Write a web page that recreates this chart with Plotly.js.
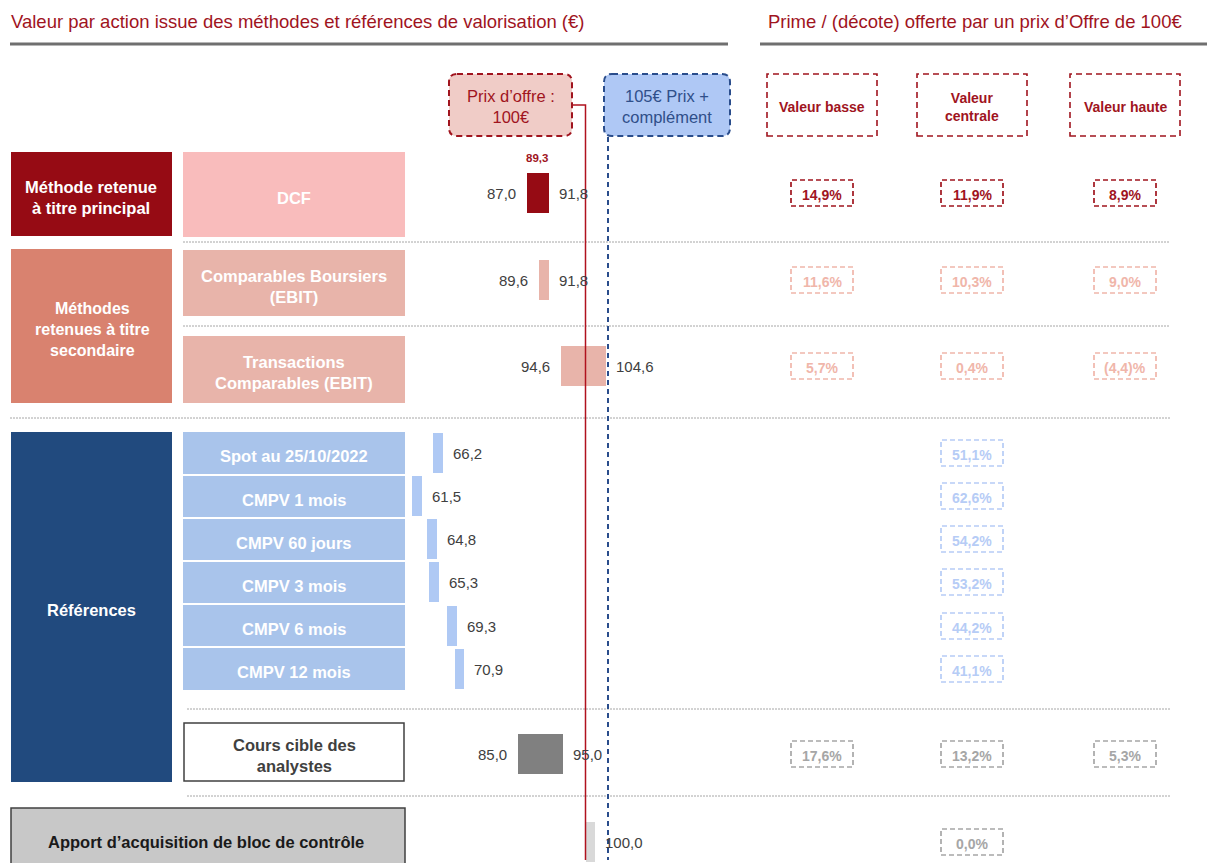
<!DOCTYPE html>
<html>
<head>
<meta charset="utf-8">
<script src="https://cdn.plot.ly/plotly-3.0.1.min.js"></script>
<style>
  html, body { margin: 0; padding: 0; background: #fff; }
  #chart { width: 1207px; height: 863px; }
</style>
</head>
<body>
<div id="chart"></div>
<script>
(function () {
  'use strict';

  // ─── Data ────────────────────────────────────────────────────────────────────
  var methods = [
    'DCF',
    'Comparables Boursiers<br>(EBIT)',
    'Transactions<br>Comparables (EBIT)',
    'Spot au 25/10/2022',
    'CMPV 1 mois',
    'CMPV 60 jours',
    'CMPV 3 mois',
    'CMPV 6 mois',
    'CMPV 12 mois',
    'Cours cible des<br>analystes',
    'Apport d\u2019acquisition de bloc de contrôle'
  ];
  var lowVals  = [87.0, 89.6, 94.6, 66.2, 61.5, 64.8, 65.3, 69.3, 70.9, 85.0, 100.0];
  var highVals = [91.8, 91.8, 104.6, null, null, null, null, null, null, 95.0, null];
  var centralDcf = 89.3;

  var premLow  = [14.9, 11.6, 5.7, null, null, null, null, null, null, 17.6, null];
  var premMid  = [11.9, 10.3, 0.4, 51.1, 62.6, 54.2, 53.2, 44.2, 41.1, 13.2, 0.0];
  var premHigh = [8.9, 9.0, -4.4, null, null, null, null, null, null, 5.3, null];
  var premHeaders = ['Valeur basse', 'Valeur<br>centrale', 'Valeur haute'];

  var groups = ['Méthode retenue<br>à titre principal', 'Méthodes<br>retenues à titre<br>secondaire', 'Références'];

  var offerPrice = 100;
  var offerComplement = 105;

  // ─── Layout constants ────────────────────────────────────────────────────────
  var W = 1207, H = 863;
  var PX_PER_EUR = 4.5, X_OFFER_PX = 585.5;
  var FONT = '"Liberation Sans", Arial, sans-serif';
  var RED = '#A0141E', GREY_TXT = '#404040';
  var rowY = [193, 280, 366, 453, 496, 539, 582, 626, 669, 754, 842];
  var barColors = ['#960B14', '#E8B4AA', '#E8B4AA', '#AFC9F4', '#AFC9F4', '#AFC9F4',
                   '#AFC9F4', '#AFC9F4', '#AFC9F4', '#808080', '#D9D9D9'];
  var premColors = ['#A0141E', '#F0B6AA', '#F0B6AA', '#B6CCF6', '#B6CCF6', '#B6CCF6',
                    '#B6CCF6', '#B6CCF6', '#B6CCF6', '#A6A6A6', '#A6A6A6'];
  var premColX = [822, 972, 1125];
  var pointBarLen = 2.1;

  function px(x) { return x / W; }
  function py(y) { return 1 - y / H; }
  function xData(p) { return offerPrice + (p - X_OFFER_PX) / PX_PER_EUR; }
  function fr(v) { return v.toFixed(1).replace('.', ','); }
  function fmtPrem(v) {
    var s = Math.abs(v).toFixed(1).replace('.', ',');
    return v < 0 ? '(' + s + ')%' : s + '%';
  }

  var shapes = [];
  var annotations = [];

  function rect(x0, y0, x1, y1, fill, lineColor, lineWidth, dash) {
    shapes.push({
      type: 'rect', xref: 'paper', yref: 'paper',
      x0: px(x0), x1: px(x1), y0: py(y1), y1: py(y0),
      fillcolor: fill || 'rgba(0,0,0,0)',
      line: { color: lineColor || 'rgba(0,0,0,0)', width: lineWidth || 0, dash: dash || 'solid' },
      layer: 'below'
    });
  }

  function roundRect(x0, y0, x1, y1, r, fill, lineColor, dash) {
    var p = function (x, y) { return px(x) + ',' + py(y); };
    var path = 'M' + p(x0 + r, y0) + ' L' + p(x1 - r, y0) + ' Q' + p(x1, y0) + ' ' + p(x1, y0 + r) +
      ' L' + p(x1, y1 - r) + ' Q' + p(x1, y1) + ' ' + p(x1 - r, y1) +
      ' L' + p(x0 + r, y1) + ' Q' + p(x0, y1) + ' ' + p(x0, y1 - r) +
      ' L' + p(x0, y0 + r) + ' Q' + p(x0, y0) + ' ' + p(x0 + r, y0) + ' Z';
    shapes.push({
      type: 'path', xref: 'paper', yref: 'paper', path: path,
      fillcolor: fill, line: { color: lineColor, width: 2, dash: dash }, layer: 'below'
    });
  }

  function text(x, y, str, size, color, bold, anchor) {
    annotations.push({
      xref: 'paper', yref: 'paper', x: px(x), y: py(y),
      xanchor: anchor || 'center', yanchor: 'middle', showarrow: false,
      text: bold ? '<b>' + str + '</b>' : str,
      font: { family: FONT, size: size, color: color }
    });
  }

  function hline(x0, x1, y, color, width, dash) {
    shapes.push({
      type: 'line', xref: 'paper', yref: 'paper',
      x0: px(x0), x1: px(x1), y0: py(y), y1: py(y),
      line: { color: color, width: width, dash: dash || 'solid' }, layer: 'below'
    });
  }

  // ─── Headers ─────────────────────────────────────────────────────────────────
  text(9, 21, 'Valeur par action issue des méthodes et références de valorisation (€)', 18.5, RED, false, 'left');
  text(766, 21, 'Prime / (décote) offerte par un prix d\u2019Offre de 100€', 18.5, RED, false, 'left');
  hline(10, 728, 44, '#6F6F6F', 3);
  hline(760, 1207, 44, '#6F6F6F', 3);

  // price boxes
  roundRect(449, 74, 572, 136, 8, '#F0CCC7', RED, '6px,4px');
  text(511, 106, 'Prix d\u2019offre :<br>100€', 16.5, RED, false);
  roundRect(604, 74, 730, 136, 8, '#AFC8F5', '#2A4D8C', '6px,4px');
  text(667, 106, '105€ Prix +<br>complément', 16.5, '#2F4F8A', false);

  // premium headers
  premColX.forEach(function (cx, i) {
    rect(cx - 55, 74, cx + 55, 136, null, RED, 1.6, '6px,4px');
    text(cx, 107, premHeaders[i], 14, RED, true);
  });

  // ─── Left label boxes ────────────────────────────────────────────────────────
  rect(11, 152, 172, 236, '#960B14');
  text(91, 197, groups[0], 16.5, '#fff', true);
  rect(11, 249, 172, 403, '#D9826F');
  text(92, 329, groups[1], 16, '#fff', true);
  rect(11, 432, 172, 782, '#214A7E');
  text(91, 610, groups[2], 16.5, '#fff', true);

  var boxTop = [152, 250, 336, 432, 476, 519, 562, 605, 648, 723];
  var boxBot = [237, 316, 403, 474, 517, 560, 603, 646, 690, 781];
  var boxFill = ['#F9BCBC', '#E8B4AA', '#E8B4AA', '#A9C4EB', '#A9C4EB', '#A9C4EB',
                 '#A9C4EB', '#A9C4EB', '#A9C4EB', '#FFFFFF'];
  for (var b = 0; b < boxTop.length; b++) {
    var last = b === boxTop.length - 1;
    rect(last ? 184 : 183, boxTop[b], last ? 404 : 405, boxBot[b], boxFill[b],
         last ? GREY_TXT : null, last ? 1.5 : 0);
    text(294, (boxTop[b] + boxBot[b]) / 2 + 3, methods[b], 16.5, last ? GREY_TXT : '#fff', true);
  }
  rect(11, 808, 405, 875, '#C8C8C8', GREY_TXT, 1.5);
  text(206, 842, methods[10], 16.5, '#1A1A1A', true);

  // dotted separators
  hline(183, 1170, 242, '#A6A6A6', 1, '2px,1px');
  hline(183, 1170, 326, '#A6A6A6', 1, '2px,1px');
  hline(10, 1170, 418, '#A6A6A6', 1, '2px,1px');
  hline(187, 1170, 709, '#A6A6A6', 1, '2px,1px');
  hline(187, 1170, 796, '#A6A6A6', 1, '2px,1px');

  // ─── Bars ────────────────────────────────────────────────────────────────────
  var barLen = lowVals.map(function (v, i) {
    return highVals[i] !== null ? highVals[i] - v : pointBarLen;
  });

  var bars = {
    type: 'bar', orientation: 'h',
    y: rowY, x: barLen, base: lowVals, width: 40,
    marker: { color: barColors, line: { width: 0 } },
    hoverinfo: 'skip', showlegend: false
  };

  // value labels
  lowVals.forEach(function (v, i) {
    var hi = highVals[i];
    var right = hi !== null ? hi : v + pointBarLen;
    if (hi !== null) {
      annotations.push({
        xref: 'x', yref: 'y', x: v, y: rowY[i], xanchor: 'right', yanchor: 'middle',
        xshift: -9, showarrow: false, text: fr(v),
        font: { family: FONT, size: 15, color: GREY_TXT }
      });
    }
    annotations.push({
      xref: 'x', yref: 'y', x: right, y: rowY[i], xanchor: 'left', yanchor: 'middle',
      xshift: 8, showarrow: false, text: fr(hi !== null ? hi : v),
      font: { family: FONT, size: 15, color: GREY_TXT }
    });
  });
  annotations.push({
    xref: 'x', yref: 'y', x: centralDcf, y: rowY[0] - 35, xanchor: 'center', yanchor: 'middle',
    showarrow: false, text: '<b>' + fr(centralDcf) + '</b>',
    font: { family: FONT, size: 11.5, color: RED }
  });

  // offer price lines
  shapes.push({
    type: 'path', xref: 'x', yref: 'y',
    path: 'M' + xData(573) + ',105 L' + offerPrice + ',105 L' + offerPrice + ',860',
    line: { color: '#B0121E', width: 1.5 }, layer: 'above'
  });
  shapes.push({
    type: 'line', xref: 'x', yref: 'y',
    x0: offerComplement, x1: offerComplement, y0: 137, y1: 860,
    line: { color: '#2A4D8C', width: 2, dash: '5px,4px' }, layer: 'above'
  });

  // ─── Premium cells ───────────────────────────────────────────────────────────
  [premLow, premMid, premHigh].forEach(function (arr, c) {
    arr.forEach(function (v, i) {
      if (v === null) return;
      var cx = premColX[c], cy = rowY[i];
      shapes.push({
        type: 'rect', xref: 'paper', yref: 'paper',
        x0: px(cx - 31), x1: px(cx + 31), y0: py(cy + 13), y1: py(cy - 13),
        line: { color: premColors[i], width: 1.7, dash: '5px,3px' }
      });
      text(cx, cy + 2, fmtPrem(v), 14, premColors[i], true);
    });
  });

  var layout = {
    width: W, height: H,
    margin: { l: 0, r: 0, t: 0, b: 0 },
    paper_bgcolor: '#fff', plot_bgcolor: 'rgba(0,0,0,0)',
    xaxis: {
      range: [xData(0), xData(W)], domain: [0, 1],
      visible: false, fixedrange: true
    },
    yaxis: {
      range: [H, 0], domain: [0, 1],
      visible: false, fixedrange: true
    },
    bargap: 0,
    shapes: shapes,
    annotations: annotations,
    showlegend: false
  };

  Plotly.newPlot('chart', [bars], layout, { staticPlot: true, displayModeBar: false });
})();
</script>
</body>
</html>
